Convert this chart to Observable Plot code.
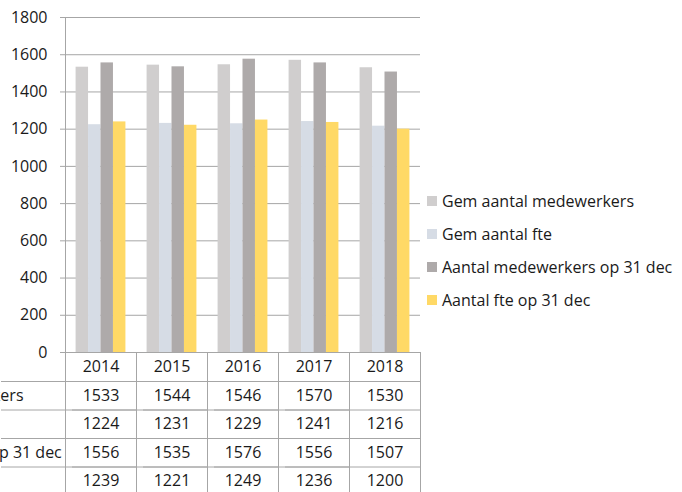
<!DOCTYPE html>
<html><head><meta charset="utf-8">
<script src="https://cdn.jsdelivr.net/npm/d3@7"></script>
<script src="https://cdn.jsdelivr.net/npm/@observablehq/plot@0.6"></script>
<style>
html,body{margin:0;padding:0;background:#fff;overflow:hidden;}
#wrap{position:relative;width:682px;height:492px;overflow:hidden;}
.legend{position:absolute;left:427px;top:184px;font-family:"Open Sans",sans-serif;font-size:16px;color:#1a1a1a;}
.legend .item{height:33px;display:flex;align-items:center;white-space:nowrap;}
.legend .sw{width:10px;height:10px;margin-right:5px;flex:none;}
</style></head><body><div id="wrap"></div>
<script>
const years = ["2014", "2015", "2016", "2017", "2018"];
const series = ["Gem aantal medewerkers", "Gem aantal fte", "Aantal medewerkers op 31 dec", "Aantal fte op 31 dec"];
const gemMedewerkers = [1533, 1544, 1546, 1570, 1530];
const gemFte = [1224, 1231, 1229, 1241, 1216];
const medewerkers31dec = [1556, 1535, 1576, 1556, 1507];
const fte31dec = [1239, 1221, 1249, 1236, 1200];
const seriesColors = ["#d0cece", "#d6dce5", "#aeaaaa", "#ffd966"];
const yTicks = [0, 200, 400, 600, 800, 1000, 1200, 1400, 1600, 1800];

const seriesValues = [gemMedewerkers, gemFte, medewerkers31dec, fte31dec];
const tidy = years.flatMap((yr, i) => series.map((s, k) => ({year: yr, series: s, value: seriesValues[k][i]})));

const FONT = '"Open Sans", sans-serif';
const FS = 16;
const GRID = "#a6a6a6";
const INK = "#1a1a1a";
const W = 682, H = 492, mL = 64, mR = 262, mT = 17, mB = 140;
const headH = 29, RH = 28.5;
const rowTops = [headH, headH + RH, headH + 2 * RH, headH + 3 * RH];
const rowCenters = [headH / 2, ...rowTops.map(t => t + RH / 2)];

const marks = [
  Plot.ruleY(yTicks, {stroke: GRID}),
  Plot.axisY({ticks: yTicks, tickSize: 5, tickPadding: 13, stroke: GRID, fill: INK, fontSize: FS, tickFormat: d => String(d)}),
  Plot.barY(tidy, {fx: "year", x: "series", y: "value", fill: "series"}),
  // table cell borders
  Plot.frame({stroke: GRID, insetTop: H - mB - mT, insetBottom: -160}),
  Plot.frame({anchor: "left", facet: "super", stroke: GRID, insetBottom: -160}),
  ...rowTops.map(t => Plot.ruleY([0], {stroke: GRID, dy: t, insetLeft: -mL})),
  // header row with years
  Plot.text(years, {fx: d => d, text: d => d, frameAnchor: "bottom", lineAnchor: "middle", dy: rowCenters[0], fill: INK, fontSize: FS}),
  // values
  ...series.map((s, k) => Plot.text(tidy.filter(d => d.series === s), {fx: "year", text: d => String(d.value), frameAnchor: "bottom", lineAnchor: "middle", dy: rowCenters[k + 1], fill: INK, fontSize: FS})),
  // row labels (partly cut off on the left, as in the reference)
  ...series.map((s, k) => Plot.text([s], {fx: () => years[0], text: d => d, frameAnchor: "bottom-left", lineAnchor: "middle", textAnchor: "start", dx: -234, dy: rowCenters[k + 1], fill: INK, fontSize: FS}))
];

const plot = Plot.plot({
  width: W, height: H,
  marginLeft: mL, marginRight: mR, marginTop: mT, marginBottom: mB,
  style: {fontFamily: FONT, fontSize: FS + "px", color: INK, background: "white", overflow: "visible"},
  fx: {domain: years, padding: 0, axis: null, label: null},
  x: {domain: series, paddingInner: 0, paddingOuter: 0.85, round: false, axis: null, label: null},
  y: {domain: [0, 1800], axis: null, label: null},
  color: {domain: series, range: seriesColors},
  marks
});

const wrap = document.getElementById("wrap");
wrap.appendChild(plot);

const legend = document.createElement("div");
legend.className = "legend";
series.forEach((s, k) => {
  const item = document.createElement("div");
  item.className = "item";
  const sw = document.createElement("span");
  sw.className = "sw";
  sw.style.background = seriesColors[k];
  const tx = document.createElement("span");
  tx.textContent = s;
  item.appendChild(sw);
  item.appendChild(tx);
  legend.appendChild(item);
});
wrap.appendChild(legend);
</script>
</body></html>
